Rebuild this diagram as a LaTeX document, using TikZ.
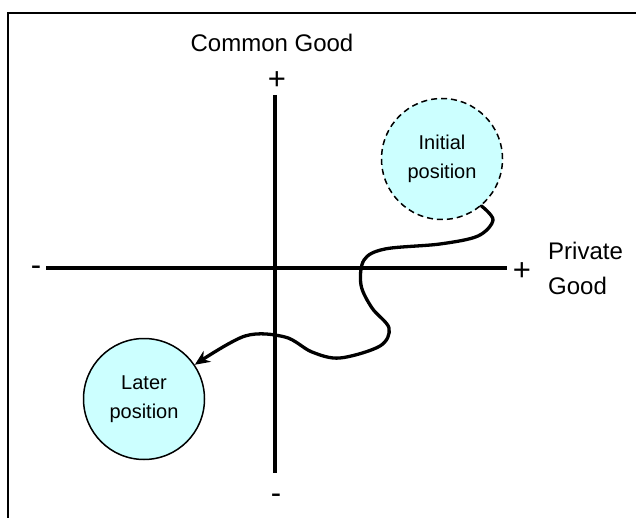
\documentclass[tikz,border=0pt]{standalone}
\usepackage{fontspec}
\setmainfont{Liberation Sans}
\usetikzlibrary{arrows.meta}
\definecolor{pos}{HTML}{CCFFFF}
\begin{document}
\begin{tikzpicture}[x=1pt,y=-1pt,
  lbl/.style={inner sep=0pt,font=\fontsize{24}{35}\selectfont},
  sgn/.style={inner sep=0pt,font=\fontsize{31}{33}\selectfont},
  posc/.style={circle,fill=pos,minimum size=121pt,inner sep=0pt,align=center,font=\fontsize{20}{29}\selectfont},
  axis/.style={line width=3.3pt},
  wave/.style={line width=3.3pt,line cap=round,line join=round}]
\useasboundingbox (0,0) rectangle (636,518);
\fill[white] (0,0) rectangle (636,518);
% frame (right and bottom sides lie outside the picture)
\draw[line width=2pt] (8,530) -- (8,13) -- (650,13);
% axes
\coordinate (vt) at (275,95);
\coordinate (vb) at (275,473);
\coordinate (hl) at (46,268);
\coordinate (hr) at (507,268);
\draw[axis] (vt) -- (vb);
\draw[axis] (hl) -- (hr);
% labels
\node[lbl] (cg) at (272,43) {Common Good};
\node[lbl,align=left,anchor=west] (pg) at (548,268) {Private\\Good};
\node[sgn] (ptop) at (277,81) {+};
\node[sgn] (mbot) at (276,499) {-};
\node[sgn] (mleft) at (36,271) {-};
\node[sgn] (pright) at (522,272) {+};
% positions
\node[posc,draw,dashed,line width=1.5pt,dash pattern=on 6pt off 4pt] (init) at (442,159) {Initial\\position};
\node[posc,draw,line width=1.5pt] (later) at (144,399) {Later\\position};
% path
\draw[wave,-{Stealth[length=15pt,width=13pt]}] plot[smooth,tension=0.55] coordinates {
 (init.-50) (493,220) (478,236) (440,244) (385,249) (364,260) (361,285)
 (372,308) (389,328) (380,346) (340,358) (312,352) (285,337) (245,336) (later.34)};
\end{tikzpicture}
\end{document}
